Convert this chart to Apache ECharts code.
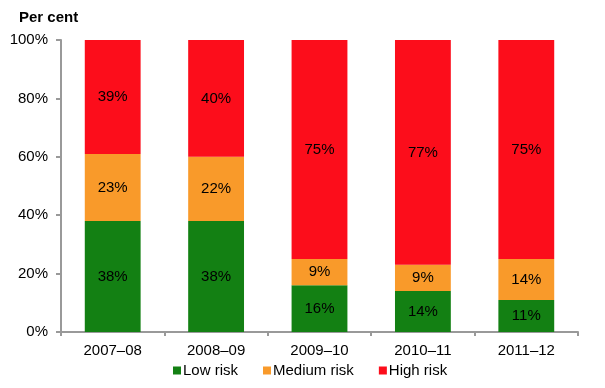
<!DOCTYPE html>
<html><head><meta charset="utf-8">
<script src="https://cdn.jsdelivr.net/npm/echarts@6/dist/echarts.min.js"></script>
<style>html,body{margin:0;padding:0;background:#fff}#c{width:605px;height:388px}</style>
</head><body><div id="c"></div>
<script>
const categories = ['2007–08','2008–09','2009–10','2010–11','2011–12'];
const lowRisk = [38,38,16,14,11];
const mediumRisk = [23,22,9,9,14];
const highRisk = [39,40,75,77,75];
const yTicks = [0,20,40,60,80,100];

const chart = echarts.init(document.getElementById('c'));
const font = 'Liberation Sans, Arial, sans-serif';
function ser(name, data, color){
  return {name, type:'bar', stack:'a', data, barWidth:'54%',
    itemStyle:{color},
    label:{show:true, position:'inside', formatter:p=>p.value+'%', color:'#000', fontSize:15, fontFamily:font},
    emphasis:{disabled:true}};
}
chart.setOption({
  animation:false,
  title:{text:'Per cent', left:14, top:5, textStyle:{fontSize:15, fontWeight:'bold', fontFamily:font, color:'#000'}},
  grid:{left:61, right:27, top:40, bottom:56},
  legend:{bottom:5, left:168, itemWidth:8, itemHeight:8, itemGap:25, icon:'rect',
    textStyle:{fontSize:15, fontFamily:font, color:'#000', padding:[0,0,0,-3]}},
  xAxis:{type:'category', data:categories,
    axisLine:{lineStyle:{color:'#999', width:2}},
    axisTick:{show:true, length:4, lineStyle:{color:'#999', width:2}, alignWithLabel:false},
    axisLabel:{fontSize:15, fontFamily:font, color:'#000', margin:11}},
  yAxis:{type:'value', min:0, max:100, interval:20,
    axisLine:{show:true, lineStyle:{color:'#999', width:2}},
    axisTick:{show:true, length:5, lineStyle:{color:'#999', width:2}},
    splitLine:{show:false},
    axisLabel:{fontSize:15, fontFamily:font, color:'#000', margin:13,
      formatter:v=> yTicks.includes(v) ? v+'%' : ''}},
  series:[ser('Low risk', lowRisk, '#138013'), ser('Medium risk', mediumRisk, '#F99A2A'), ser('High risk', highRisk, '#FC0D1B')]
});
</script></body></html>
